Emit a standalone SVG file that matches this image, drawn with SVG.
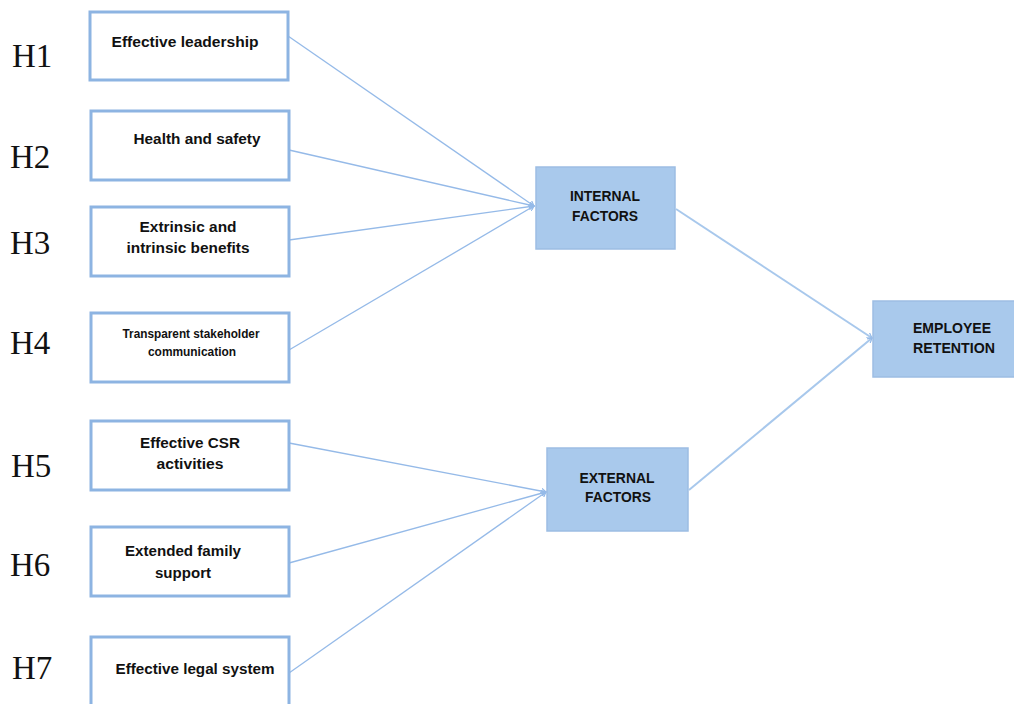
<svg xmlns="http://www.w3.org/2000/svg" width="1014" height="704" viewBox="0 0 1014 704">
<style>
.box{fill:#ffffff;stroke:#8db4e2;stroke-width:3}
.big{fill:#a9c9ec;stroke:#9dbde3;stroke-width:1.5}
.t{font-family:"Liberation Sans",Arial,sans-serif;font-weight:bold;font-size:14px;fill:#111;text-anchor:middle}
.ts{font-size:12px}
.h{font-family:"Liberation Serif","Times New Roman",serif;font-size:33px;fill:#111}
.c{stroke:#95bae8;stroke-width:1.3;fill:none;marker-end:url(#a)}
.c2{stroke:#a8c8ec;stroke-width:2}
</style>
<defs>
<marker id="a" markerWidth="6" markerHeight="6" refX="5" refY="3" orient="auto" markerUnits="userSpaceOnUse">
<path d="M0,0 L5,3 L0,6" fill="none" stroke="#95bae8" stroke-width="1.2"/>
</marker>
</defs>
<rect width="1014" height="704" fill="#ffffff"/>
<g id="connectors">
<line class="c" x1="288" y1="36" x2="534" y2="206"/>
<line class="c" x1="289" y1="150" x2="534" y2="206"/>
<line class="c" x1="289" y1="240" x2="534" y2="206"/>
<line class="c" x1="289" y1="350" x2="534" y2="206"/>
<line class="c" x1="289" y1="443" x2="546" y2="492"/>
<line class="c" x1="289" y1="563" x2="546" y2="492"/>
<line class="c" x1="289" y1="673" x2="546" y2="492"/>
<line class="c c2" x1="676" y1="209" x2="872" y2="338"/>
<line class="c c2" x1="689" y1="490" x2="872" y2="338"/>
</g>
<g id="h-labels">
<text class="h" x="12" y="67">H1</text>
<text class="h" x="10" y="168">H2</text>
<text class="h" x="10" y="254">H3</text>
<text class="h" x="10" y="354">H4</text>
<text class="h" x="11" y="477">H5</text>
<text class="h" x="10" y="576">H6</text>
<text class="h" x="12" y="679">H7</text>
</g>
<g id="n1"><rect class="box" x="90" y="12" width="198" height="68"/><text class="t" x="185" y="47" textLength="147" lengthAdjust="spacingAndGlyphs">Effective leadership</text></g>
<g id="n2"><rect class="box" x="91" y="111" width="198" height="69"/><text class="t" x="197" y="144" textLength="127" lengthAdjust="spacingAndGlyphs">Health and safety</text></g>
<g id="n3"><rect class="box" x="91" y="207" width="198" height="69"/><text class="t" x="188" y="232" textLength="97" lengthAdjust="spacingAndGlyphs">Extrinsic and</text><text class="t" x="188" y="253" textLength="123" lengthAdjust="spacingAndGlyphs">intrinsic benefits</text></g>
<g id="n4"><rect class="box" x="91" y="313" width="198" height="69"/><text class="t ts" x="191" y="338" textLength="137" lengthAdjust="spacingAndGlyphs">Transparent stakeholder</text><text class="t ts" x="192" y="356" textLength="88" lengthAdjust="spacingAndGlyphs">communication</text></g>
<g id="n5"><rect class="box" x="91" y="421" width="198" height="69"/><text class="t" x="190" y="448" textLength="100" lengthAdjust="spacingAndGlyphs">Effective CSR</text><text class="t" x="190" y="469" textLength="67" lengthAdjust="spacingAndGlyphs">activities</text></g>
<g id="n6"><rect class="box" x="91" y="527" width="198" height="69"/><text class="t" x="183" y="556" textLength="116" lengthAdjust="spacingAndGlyphs">Extended family</text><text class="t" x="183" y="578" textLength="56" lengthAdjust="spacingAndGlyphs">support</text></g>
<g id="n7"><rect class="box" x="91" y="637" width="198" height="80"/><text class="t" x="195" y="674" textLength="159" lengthAdjust="spacingAndGlyphs">Effective legal system</text></g>
<g id="internal"><rect class="big" x="536" y="167" width="139" height="82"/><text class="t" x="605" y="201" textLength="70" lengthAdjust="spacingAndGlyphs">INTERNAL</text><text class="t" x="605" y="221" textLength="66" lengthAdjust="spacingAndGlyphs">FACTORS</text></g>
<g id="external"><rect class="big" x="547" y="448" width="141" height="83"/><text class="t" x="617" y="483" textLength="75" lengthAdjust="spacingAndGlyphs">EXTERNAL</text><text class="t" x="618" y="502" textLength="66" lengthAdjust="spacingAndGlyphs">FACTORS</text></g>
<g id="retention"><rect class="big" x="873" y="301" width="145" height="76"/><text class="t" x="952" y="333" textLength="78" lengthAdjust="spacingAndGlyphs">EMPLOYEE</text><text class="t" x="954" y="353" textLength="82" lengthAdjust="spacingAndGlyphs">RETENTION</text></g>
</svg>
